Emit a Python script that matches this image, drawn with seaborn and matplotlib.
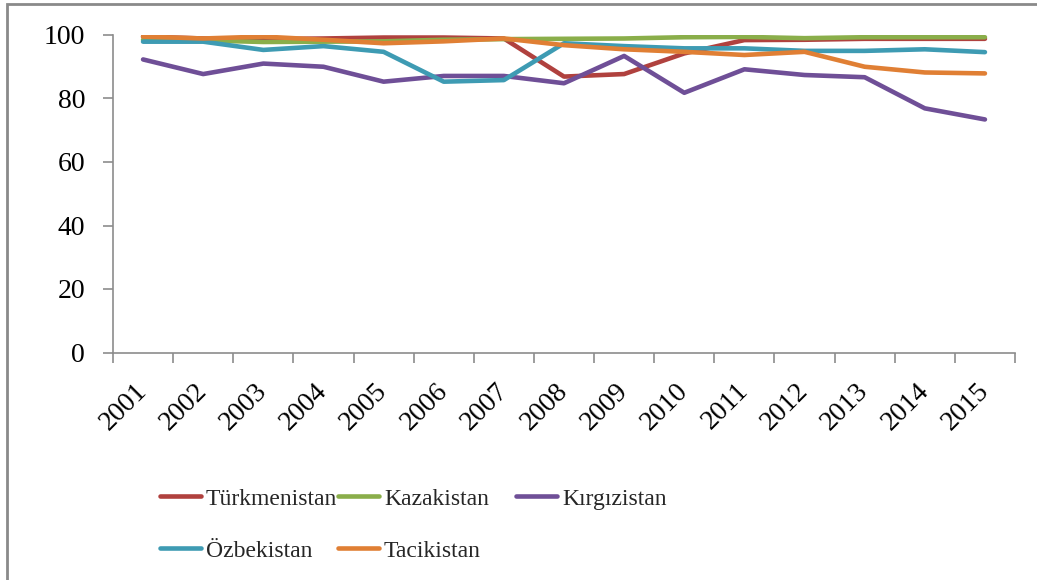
import numpy as np
import pandas as pd
import matplotlib
matplotlib.use("Agg")
import matplotlib.pyplot as plt
from matplotlib.patches import Rectangle
import seaborn as sns

years = ["2001", "2002", "2003", "2004", "2005", "2006", "2007", "2008",
         "2009", "2010", "2011", "2012", "2013", "2014", "2015"]
turkmenistan = [99.5, 98.9, 98.7, 98.9, 99.2, 99.2, 98.9, 86.9, 87.7, 94.2, 98.4, 98.5, 98.8, 98.8, 98.8]
kazakistan = [98.5, 98.3, 97.8, 97.9, 98.0, 98.5, 98.7, 98.8, 98.9, 99.3, 99.4, 99.0, 99.3, 99.3, 99.3]
kirgizistan = [92.3, 87.7, 91.0, 90.0, 85.3, 87.1, 87.1, 84.8, 93.4, 81.8, 89.2, 87.4, 86.7, 76.9, 73.4]
ozbekistan = [97.9, 97.9, 95.3, 96.5, 94.7, 85.3, 85.8, 97.4, 96.5, 95.8, 95.8, 95.0, 95.0, 95.5, 94.6]
tacikistan = [99.5, 98.9, 99.5, 98.5, 97.4, 98.0, 98.9, 96.8, 95.5, 94.7, 93.7, 94.7, 90.0, 88.2, 87.9]

series_names = ["Türkmenistan", "Kazakistan", "Kırgızistan", "Özbekistan", "Tacikistan"]
series_values = [turkmenistan, kazakistan, kirgizistan, ozbekistan, tacikistan]
colors = ["#B0413E", "#8AAE4A", "#6F4F97", "#3E9BB3", "#E07F34"]
yticks = [0, 20, 40, 60, 80, 100]

rows = []
for name, vals in zip(series_names, series_values):
    for i, v in enumerate(vals):
        rows.append({"idx": i, "value": v, "country": name})
df = pd.DataFrame(rows)

sns.set_theme(style="white")
plt.rcParams["font.family"] = ["Liberation Serif", "DejaVu Serif"]

W, H = 1037, 580
fig = plt.figure(figsize=(W / 100, H / 100), dpi=100)
ax = fig.add_axes([113 / W, 1 - 352.5 / H, (1015 - 113) / W, (352.5 - 35) / H])

sns.lineplot(data=df, x="idx", y="value", hue="country", hue_order=series_names,
             palette=colors, linewidth=3.3, ax=ax, legend=True,
             solid_capstyle="round")
handles, labels = ax.get_legend_handles_labels()
ax.get_legend().remove()

ax.set_xlim(-0.5, len(years) - 0.5)
ax.set_ylim(0, 100)
ax.set_xlabel("")
ax.set_ylabel("")

axis_color = "#8C8C8C"
for s in ["top", "right"]:
    ax.spines[s].set_visible(False)
for s in ["left", "bottom"]:
    ax.spines[s].set_color(axis_color)
    ax.spines[s].set_linewidth(1.2)

ax.set_yticks(yticks)
ax.set_yticklabels([str(t) for t in yticks])
ax.tick_params(axis="y", direction="out", length=7, width=1.2, color=axis_color,
               labelsize=20, pad=13, left=True)

ax.set_xticks(np.arange(-0.5, len(years) + 0.5, 1.0))
ax.set_xticklabels([])
ax.tick_params(axis="x", which="major", direction="out", length=7, width=1.2,
               color=axis_color, bottom=True)
ax.set_xticks(np.arange(len(years)), minor=True)
ax.set_xticklabels(years, minor=True, rotation=45, ha="right", va="center",
                   rotation_mode="anchor", fontsize=20)
ax.tick_params(axis="x", which="minor", length=0, pad=25)
for lbl in ax.get_xticklabels(minor=True):
    lbl.set_color("black")
for lbl in ax.get_yticklabels():
    lbl.set_color("black")

# outer chart frame
fig.patches.append(Rectangle((7 / W, -0.05), 1.2, 1 - 4 / H + 0.05,
                             transform=fig.transFigure, fill=False,
                             edgecolor="#8A8A8A", linewidth=2))

hmap = dict(zip(labels, handles))
cols = [["Türkmenistan", "Özbekistan"], ["Kazakistan", "Tacikistan"], ["Kırgızistan"]]
xs = [160, 338, 516]
for c, x in zip(cols, xs):
    hs = []
    for n in c:
        h = hmap[n]
        h.set_linewidth(3.3)
        hs.append(h)
    fig.legend(hs, c, loc="upper left", bbox_to_anchor=(x / W, 1 - 488 / H),
               frameon=False, fontsize=17, handlelength=1.75, handletextpad=0.2,
               borderpad=0, borderaxespad=0, labelspacing=1.3)

fig.savefig("out.png", dpi=100)
